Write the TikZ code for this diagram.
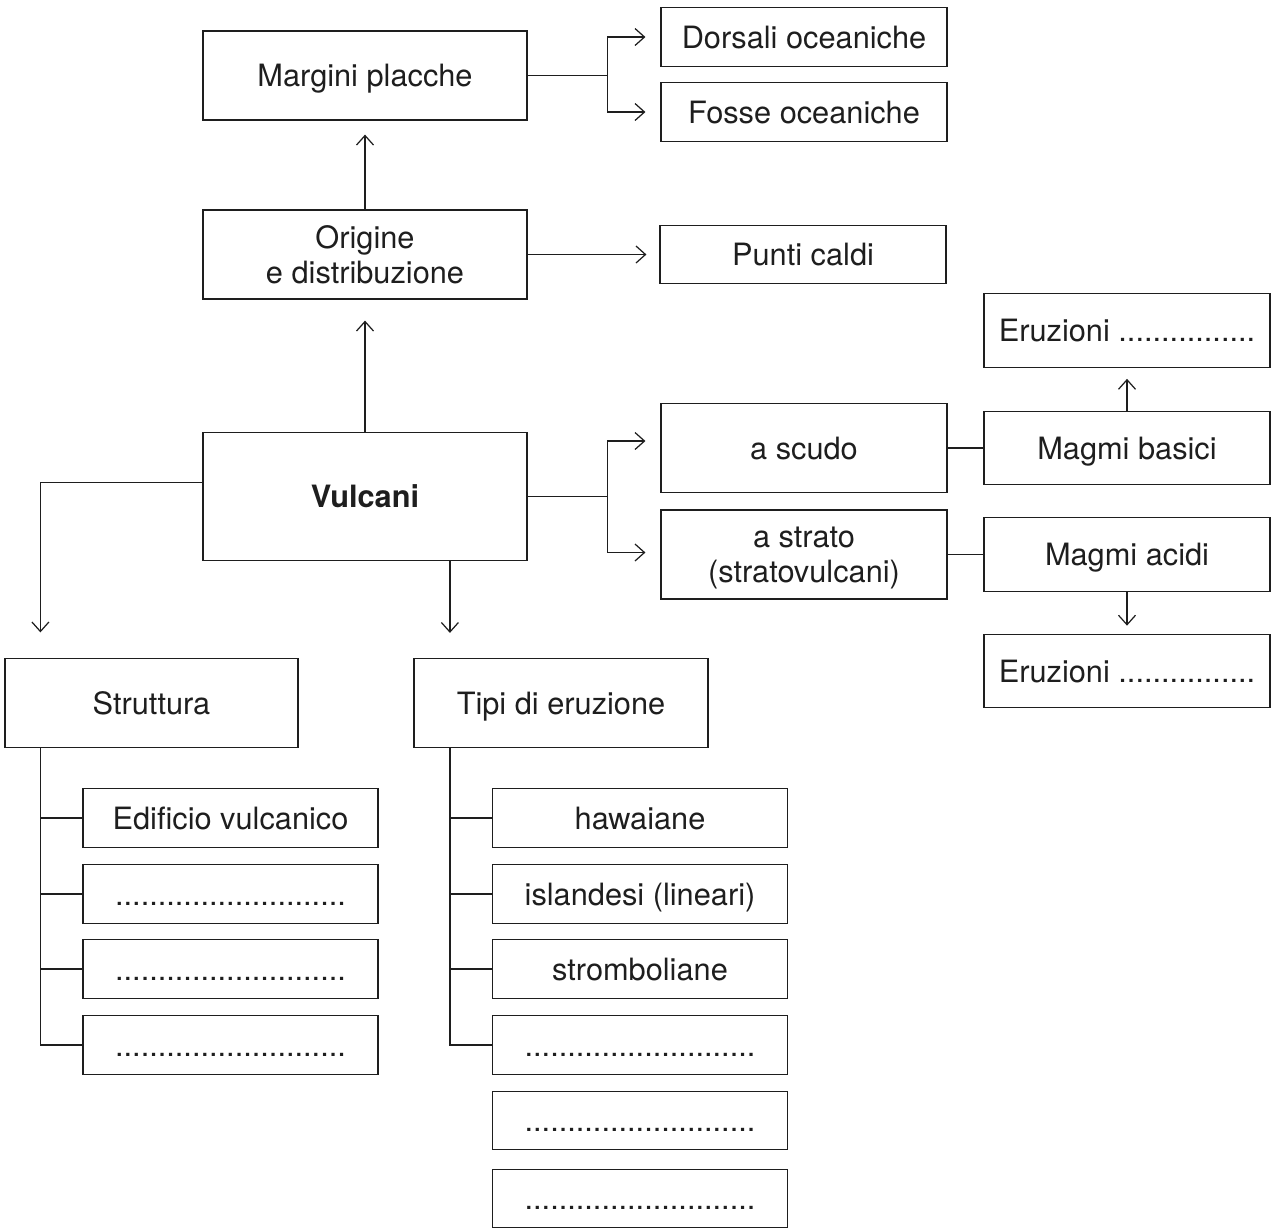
\documentclass[tikz,border=0pt]{standalone}
\usepackage{fontspec}
\setmainfont{TeX Gyre Heros}
\usepackage{tikz}
\usetikzlibrary{arrows.meta}
\definecolor{ink}{RGB}{30,30,30}

\begin{document}
\begin{tikzpicture}[x=0.02cm, y=-0.02cm, >={Straight Barb[length=1.9mm,width=3.4mm]}, color=ink, line width=0.7pt,
    font=\fontsize{17.5}{20}\selectfont,
    bigbox/.style={draw, align=center, inner sep=0pt, text depth=0pt, minimum width=6.48cm, minimum height=1.78cm},
    leafbox/.style={draw, align=center, inner sep=0pt, text depth=0pt, minimum width=5.72cm, minimum height=1.17cm},
    magmabox/.style={draw, align=center, inner sep=0pt, text depth=0pt, minimum width=5.72cm, minimum height=1.47cm},
    listbox/.style={draw, align=center, inner sep=0pt, text height=12.6pt, text depth=0pt, minimum width=5.9cm, minimum height=1.17cm},
    link/.style={->, shorten >=#1}]
    \useasboundingbox (0,0) rectangle (1275,1228);

    % origine e distribuzione
    \node[bigbox] (MP) at (365,75.5) {Margini placche};
    \node[leafbox] (DO) at (804,37) {Dorsali oceaniche};
    \node[leafbox] (FO) at (804,112) {Fosse oceaniche};
    \node[bigbox] (OD) at (365,254.5) {Origine\\ e distribuzione};
    \node[leafbox] (PC) at (803,254.5) {Punti caldi};
    \node[bigbox, minimum height=2.55cm] (V) at (365,496.4) {\textbf{Vulcani}};

    % tipi di vulcano
    \node[bigbox, minimum width=5.72cm] (SC) at (804,448) {a scudo};
    \node[bigbox, minimum width=5.72cm] (ST) at (804,554.5) {a strato\\ (stratovulcani)};
    \node[magmabox] (MB) at (1127,448) {Magmi basici};
    \node[magmabox] (MA) at (1127,554.5) {Magmi acidi};
    \node[magmabox] (E1) at (1127,330.5) {Eruzioni ................};
    \node[magmabox] (E2) at (1127,671) {Eruzioni ................};

    % struttura e tipi di eruzione
    \node[bigbox, minimum width=5.86cm] (STR) at (151.5,703) {Struttura};
    \node[bigbox, minimum width=5.88cm] (TE) at (561,703) {Tipi di eruzione};
    \node[listbox] (S1) at (230.5,818) {Edificio vulcanico};
    \node[listbox] (S2) at (230.5,894) {...........................};
    \node[listbox] (S3) at (230.5,969) {...........................};
    \node[listbox] (S4) at (230.5,1045) {...........................};
    \node[listbox] (T1) at (640,818) {hawaiane};
    \node[listbox] (T2) at (640,894) {islandesi (lineari)};
    \node[listbox] (T3) at (640,969) {stromboliane};
    \node[listbox] (T4) at (640,1045) {...........................};
    \node[listbox] (T5) at (640,1120.5) {...........................};
    \node[listbox] (T6) at (640,1198.5) {...........................};

    % frecce
    \draw (MP.east) -- ++(80,0) coordinate (J1);
    \draw[link=0.3cm] (J1) |- (DO.west);
    \draw[link=0.3cm] (J1) |- (FO.west);
    \draw[link=0.28cm] (OD) -- (MP);
    \draw[link=0.26cm] (OD) -- (PC);
    \draw[link=0.42cm] (V) -- (OD);

    \draw (V.east) -- ++(80,0) coordinate (J2);
    \draw[link=0.3cm] (J2) |- ([yshift=0.14cm]SC.west);
    \draw[link=0.3cm] (J2) |- ([yshift=0.04cm]ST.west);
    \draw (SC) -- (MB);
    \draw (ST) -- (MA);
    \draw[link=0.22cm] (MB) -- (E1);
    \draw[link=0.16cm] (MA) -- (E2);

    \coordinate (ts) at ([xshift=0.72cm]STR.south west);
    \coordinate (tv) at ([xshift=0.73cm]TE.north west);
    \coordinate (tt) at ([xshift=0.73cm]TE.south west);
    \draw[link=0.51cm] ([yshift=0.28cm]V.west) -| ([xshift=0.72cm]STR.north west);
    \draw[link=0.5cm] (V.south -| tv) -- (tv);

    \draw (ts) |- (S4.west);
    \draw (ts |- S1.west) -- (S1.west);
    \draw (ts |- S2.west) -- (S2.west);
    \draw (ts |- S3.west) -- (S3.west);
    \draw (tt) |- (T4.west);
    \draw (tt |- T1.west) -- (T1.west);
    \draw (tt |- T2.west) -- (T2.west);
    \draw (tt |- T3.west) -- (T3.west);
\end{tikzpicture}
\end{document}
